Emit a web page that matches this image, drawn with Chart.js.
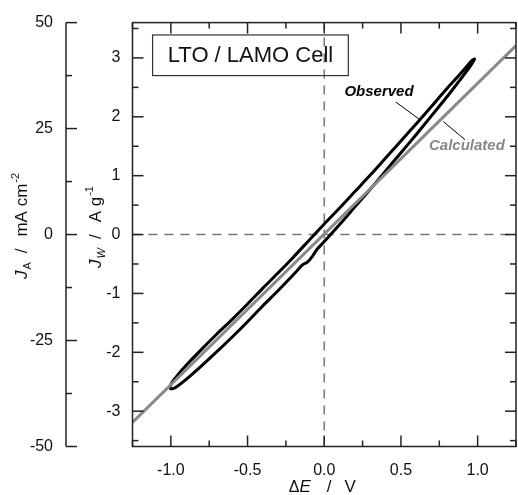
<!DOCTYPE html>
<html lang="en">
<head>
<meta charset="UTF-8">
<title>LTO / LAMO Cell</title>
<script src="https://cdn.jsdelivr.net/npm/chart.js@4.4.0/dist/chart.umd.min.js"></script>
<style>
  html, body { margin: 0; padding: 0; background: #fff; }
  #wrap { width: 518px; height: 495px; }
</style>
</head>
<body>
<div id="wrap"><canvas id="ivChart" width="518" height="495"></canvas></div>
<script>
// axis ranges and ticks
const xRange = [-1.25, 1.25];
const xTicks = [-1.0, -0.5, 0.0, 0.5, 1.0];
const xMinorTicks = [-1.25, -0.75, -0.25, 0.25, 0.75, 1.25];
const jwRange = [-3.6, 3.6];
const jwTicks = [-3, -2, -1, 0, 1, 2, 3];
const jwMinorTicks = [-3.5, -2.5, -1.5, -0.5, 0.5, 1.5, 2.5, 3.5];
const jaRange = [-50, 50];
const jaTicks = [-50, -25, 0, 25, 50];
const jaMinorTicks = [-37.5, -12.5, 12.5, 37.5];

// observed loop, upper branch (sweep up)
const obsUpE = [-1.01, -0.99, -0.96, -0.9, -0.8, -0.7, -0.6, -0.5, -0.4, -0.3, -0.2, -0.1, 0.0,
                0.1, 0.2, 0.3, 0.4, 0.5, 0.6, 0.7, 0.8, 0.88, 0.93, 0.96, 0.98];
const obsUpJ = [-2.61, -2.50, -2.40, -2.22, -1.95, -1.69, -1.44, -1.18, -0.91, -0.65, -0.38, -0.10, 0.18,
                0.45, 0.73, 1.01, 1.30, 1.59, 1.88, 2.18, 2.48, 2.71, 2.86, 2.95, 2.98];
// observed loop, lower branch (sweep back down)
const obsDownE = [0.96, 0.93, 0.88, 0.8, 0.7, 0.6, 0.5, 0.4, 0.3, 0.2, 0.1, 0.0, -0.05, -0.08, -0.11,
                  -0.14, -0.2, -0.3, -0.4, -0.5, -0.6, -0.7, -0.8, -0.9, -0.96, -0.99, -1.01];
const obsDownJ = [2.89, 2.78, 2.61, 2.34, 2.02, 1.70, 1.39, 1.08, 0.77, 0.47, 0.17, -0.12, -0.26, -0.38, -0.47,
                  -0.51, -0.68, -0.95, -1.21, -1.48, -1.74, -1.99, -2.23, -2.46, -2.58, -2.62, -2.61];

// calculated line
const calcE = [-1.25, 1.25];
const calcJ = [-3.19, 3.21];

const FONT = '"Liberation Sans", Arial, sans-serif';

const obsPoints = obsUpE.map((e, i) => ({ x: e, y: obsUpJ[i] }))
  .concat(obsDownE.map((e, i) => ({ x: e, y: obsDownJ[i] })));
const calcPoints = calcE.map((e, i) => ({ x: e, y: calcJ[i] }));

// draws a run of text pieces (italic, sub, sup) centred on cx, cy
function richText(ctx, parts, cx, cy, angle) {
  let w = 0;
  parts.forEach(p => {
    ctx.font = p.font;
    p.w = ctx.measureText(p.t).width;
    w += (p.gap || 0) + p.w;
  });
  ctx.save();
  ctx.translate(cx, cy);
  ctx.rotate(angle);
  ctx.textAlign = 'left';
  ctx.textBaseline = 'alphabetic';
  ctx.fillStyle = '#111';
  let pos = -w / 2;
  parts.forEach(p => {
    pos += p.gap || 0;
    ctx.font = p.font;
    ctx.fillText(p.t, pos, 6 + (p.dy || 0));
    pos += p.w;
  });
  ctx.restore();
}

const decor = {
  id: 'decor',
  afterDraw(chart) {
    const { ctx, chartArea: a, scales: { x, y, yA } } = chart;
    const line = (x1, y1, x2, y2) => {
      ctx.beginPath(); ctx.moveTo(x1, y1); ctx.lineTo(x2, y2); ctx.stroke();
    };
    ctx.save();
    ctx.strokeStyle = '#222';
    ctx.lineWidth = 1.5;
    ctx.strokeRect(a.left, a.top, a.right - a.left, a.bottom - a.top);

    // inward ticks on all four sides
    const big = 11, small = 6;
    xTicks.concat(xMinorTicks).forEach((v, i) => {
      const px = x.getPixelForValue(v);
      const l = i < xTicks.length ? big : small;
      line(px, a.bottom, px, a.bottom - l);
      line(px, a.top, px, a.top + l);
    });
    jwTicks.concat(jwMinorTicks).forEach((v, i) => {
      const py = y.getPixelForValue(v);
      const l = i < jwTicks.length ? big : small;
      line(a.left, py, a.left + l, py);
      line(a.right, py, a.right - l, py);
    });

    // separate J_A axis
    const ax = yA.right;
    line(ax, a.top, ax, a.bottom);
    jaTicks.concat(jaMinorTicks).forEach((v, i) => {
      const py = yA.getPixelForValue(v);
      const l = i < jaTicks.length ? big : small;
      line(ax, py, ax + l, py);
    });

    // axis titles
    const f = (s, it) => (it ? 'italic ' : '') + s + 'px ' + FONT;
    richText(ctx, [
      { t: 'J', font: f(17, true) },
      { t: 'A', font: f(11), dy: 4, gap: 1 },
      { t: '/', font: f(17), gap: 9 },
      { t: 'mA cm', font: f(17), gap: 12 },
      { t: '-2', font: f(11), dy: -8, gap: 1 }
    ], 21, 226, -Math.PI / 2);
    richText(ctx, [
      { t: 'J', font: f(17, true) },
      { t: 'W', font: f(11, true), dy: 4, gap: 1 },
      { t: '/', font: f(17), gap: 9 },
      { t: 'A g', font: f(17), gap: 12 },
      { t: '-1', font: f(11), dy: -8, gap: 1 }
    ], 95, 227, -Math.PI / 2);
    richText(ctx, [
      { t: '\u0394', font: f(16) },
      { t: 'E', font: f(17, true) },
      { t: '/', font: f(17), gap: 16 },
      { t: 'V', font: f(17), gap: 13 }
    ], x.getPixelForValue(0) - 2, 486, 0);

    // title box
    const bx1 = x.getPixelForValue(-1.119), bx2 = x.getPixelForValue(0.157);
    const by1 = y.getPixelForValue(3.39), by2 = y.getPixelForValue(2.70);
    ctx.lineWidth = 1.2;
    ctx.strokeStyle = '#333';
    ctx.strokeRect(bx1, by1, bx2 - bx1, by2 - by1);
    ctx.fillStyle = '#111';
    ctx.font = '22px ' + FONT;
    ctx.textAlign = 'center';
    ctx.textBaseline = 'middle';
    ctx.fillText('LTO / LAMO Cell', (bx1 + bx2) / 2, (by1 + by2) / 2 + 1);

    // series labels with leader lines
    ctx.font = 'italic bold 15px ' + FONT;
    ctx.fillStyle = '#000';
    ctx.fillText('Observed', x.getPixelForValue(0.357), y.getPixelForValue(2.42));
    ctx.fillStyle = '#888';
    ctx.fillText('Calculated', x.getPixelForValue(0.930), y.getPixelForValue(1.50));
    ctx.strokeStyle = '#000';
    ctx.lineWidth = 1;
    line(x.getPixelForValue(0.467), y.getPixelForValue(2.25), x.getPixelForValue(0.624), y.getPixelForValue(1.95));
    line(x.getPixelForValue(0.776), y.getPixelForValue(1.92), x.getPixelForValue(0.918), y.getPixelForValue(1.61));
    ctx.restore();
  }
};

const tickFont = { family: FONT, size: 16 };

new Chart(document.getElementById('ivChart'), {
  type: 'scatter',
  data: {
    datasets: [
      {
        label: 'Calculated',
        data: calcPoints,
        showLine: true,
        borderColor: '#8a8a8a',
        borderWidth: 3,
        pointRadius: 0
      },
      {
        label: 'Observed',
        data: obsPoints,
        showLine: true,
        borderColor: '#000',
        borderWidth: 3,
        pointRadius: 0,
        tension: 0.3
      },
      {
        label: 'E = 0',
        data: [{ x: 0, y: jwRange[0] }, { x: 0, y: jwRange[1] }],
        showLine: true,
        borderColor: '#777',
        borderWidth: 1.5,
        borderDash: [9, 7],
        pointRadius: 0
      },
      {
        label: 'J = 0',
        data: [{ x: xRange[0], y: 0 }, { x: xRange[1], y: 0 }],
        showLine: true,
        borderColor: '#777',
        borderWidth: 1.5,
        borderDash: [9, 7],
        pointRadius: 0
      }
    ]
  },
  options: {
    responsive: false,
    animation: false,
    layout: { padding: { top: 21, right: 2, left: 0, bottom: 0 } },
    plugins: { legend: { display: false }, tooltip: { enabled: false } },
    scales: {
      x: {
        type: 'linear',
        position: 'bottom',
        min: xRange[0],
        max: xRange[1],
        grid: { display: false, drawTicks: false },
        border: { display: false },
        afterBuildTicks: s => { s.ticks = xTicks.map(v => ({ value: v })); },
        afterFit: s => { s.height = 48.5; },
        ticks: { font: tickFont, color: '#111', padding: 14, maxRotation: 0, callback: v => v.toFixed(1) }
      },
      y: {
        type: 'linear',
        position: 'left',
        min: jwRange[0],
        max: jwRange[1],
        grid: { display: false, drawTicks: false },
        border: { display: false },
        afterBuildTicks: s => { s.ticks = jwTicks.map(v => ({ value: v })); },
        afterFit: s => { s.width = 66.5; },
        ticks: { font: tickFont, color: '#111', padding: 12, callback: v => String(v) }
      },
      yA: {
        type: 'linear',
        position: 'left',
        weight: 1,
        min: jaRange[0],
        max: jaRange[1],
        grid: { display: false, drawTicks: false },
        border: { display: false },
        afterBuildTicks: s => { s.ticks = jaTicks.map(v => ({ value: v })); },
        afterFit: s => { s.width = 66; },
        ticks: { font: tickFont, color: '#111', padding: 13, callback: v => String(v) }
      }
    }
  },
  plugins: [decor]
});
</script>
</body>
</html>
